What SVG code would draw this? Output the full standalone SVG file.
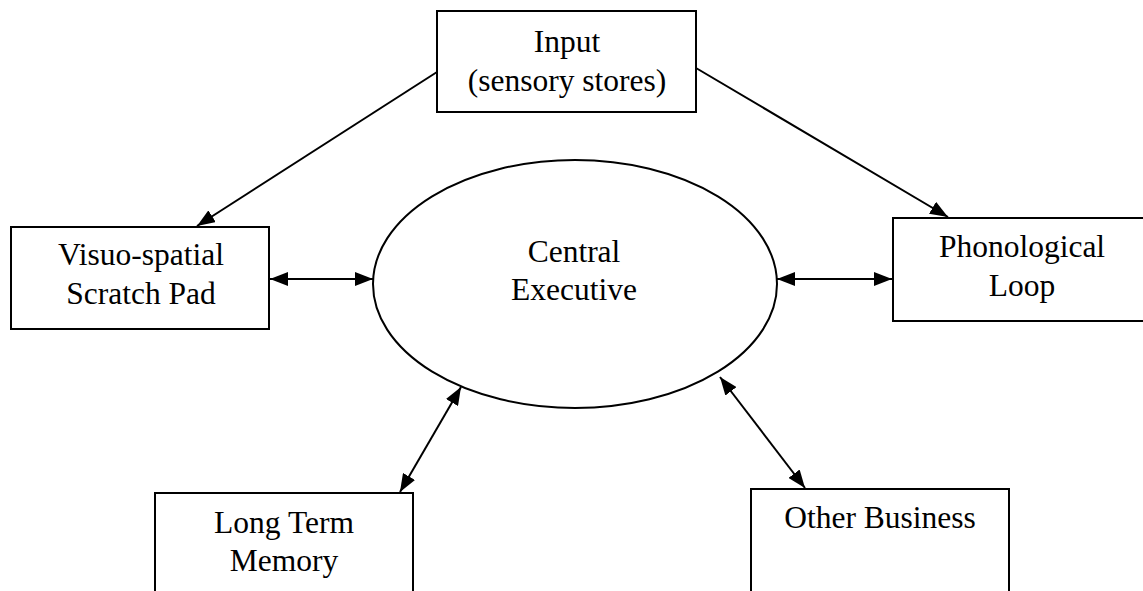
<svg xmlns="http://www.w3.org/2000/svg" width="1143" height="591" viewBox="0 0 1143 591">
  <style>
    .box { fill: #fff; stroke: #000; stroke-width: 2; }
    .lbl { font-family: 'Liberation Serif', 'DejaVu Serif', serif; font-size: 31.5px; fill: #000; text-anchor: middle; }
    .conn { stroke: #000; stroke-width: 2; fill: none; }
  </style>
  <defs>
    <marker id="head" viewBox="0 0 18 14" refX="18" refY="7" markerWidth="18" markerHeight="14" markerUnits="userSpaceOnUse" orient="auto-start-reverse">
      <path d="M0,0 L18,7 L0,14 Z" fill="#000"/>
    </marker>
  </defs>

  <rect width="1143" height="591" fill="#fff"/>

  <g id="connectors">
    <line class="conn" x1="437" y1="72" x2="197" y2="226" marker-end="url(#head)"/>
    <line class="conn" x1="696" y1="68" x2="948" y2="217" marker-end="url(#head)"/>
    <line class="conn" x1="270" y1="279" x2="373" y2="279" marker-start="url(#head)" marker-end="url(#head)"/>
    <line class="conn" x1="777" y1="279" x2="892" y2="279" marker-start="url(#head)" marker-end="url(#head)"/>
    <line class="conn" x1="400" y1="492" x2="461" y2="387" marker-start="url(#head)" marker-end="url(#head)"/>
    <line class="conn" x1="805" y1="488" x2="720" y2="377" marker-start="url(#head)" marker-end="url(#head)"/>
  </g>

  <g id="input">
    <rect class="box" x="437" y="11" width="259" height="101"/>
    <text class="lbl" x="567" y="52">Input</text>
    <text class="lbl" x="567" y="91">(sensory stores)</text>
  </g>

  <g id="visuo-spatial">
    <rect class="box" x="11" y="227" width="258" height="102"/>
    <text class="lbl" x="141" y="265">Visuo-spatial</text>
    <text class="lbl" x="141" y="304">Scratch Pad</text>
  </g>

  <g id="central-executive">
    <ellipse class="box" cx="575" cy="284" rx="202" ry="124"/>
    <text class="lbl" x="574" y="262">Central</text>
    <text class="lbl" x="574" y="300">Executive</text>
  </g>

  <g id="phonological-loop">
    <rect class="box" x="893" y="218" width="262" height="103"/>
    <text class="lbl" x="1022" y="257">Phonological</text>
    <text class="lbl" x="1022" y="296">Loop</text>
  </g>

  <g id="long-term-memory">
    <rect class="box" x="155" y="493" width="258" height="110"/>
    <text class="lbl" x="284" y="533">Long Term</text>
    <text class="lbl" x="284" y="571">Memory</text>
  </g>

  <g id="other-business">
    <rect class="box" x="751" y="489" width="258" height="114"/>
    <text class="lbl" x="880" y="528">Other Business</text>
  </g>
</svg>
